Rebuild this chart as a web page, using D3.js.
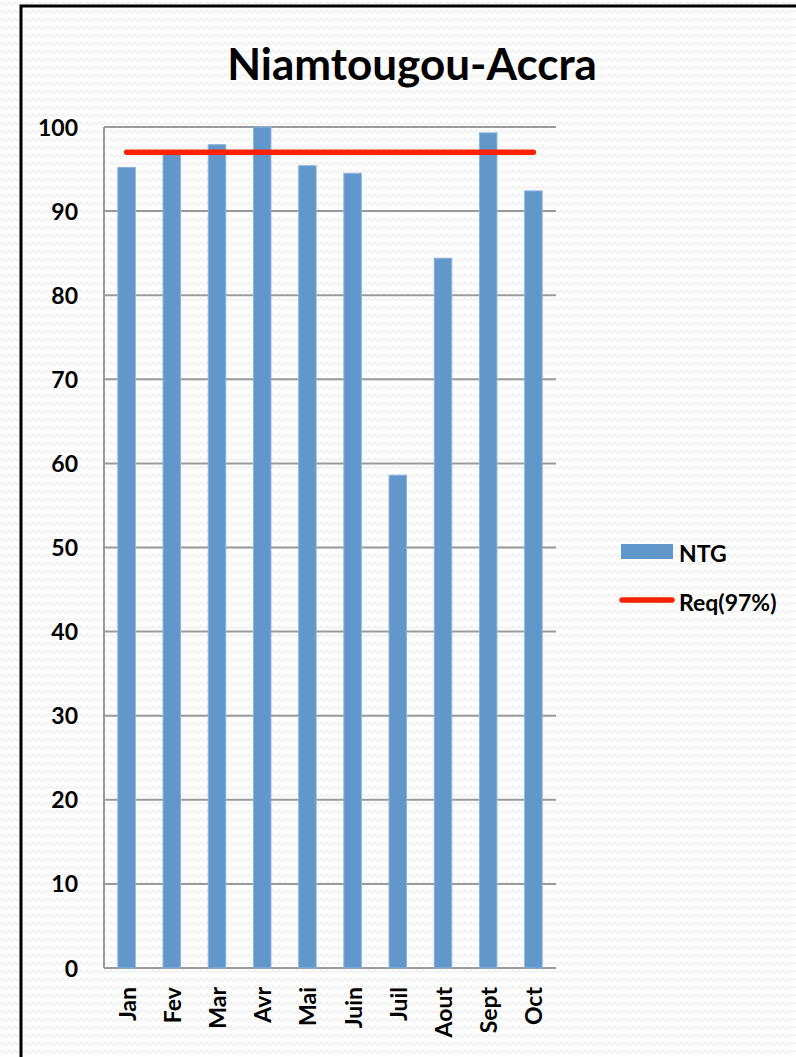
<!DOCTYPE html>
<html><head><meta charset="utf-8">
<script src="https://cdn.jsdelivr.net/npm/d3@7"></script>
<style>body{margin:0;background:#fff;}svg{display:block;}</style>
</head><body>
<script>
const categories = ["Jan","Fev","Mar","Avr","Mai","Juin","Juil","Aout","Sept","Oct"];
const ntgValues = [95.2, 97.1, 97.9, 100, 95.4, 94.5, 58.6, 84.4, 99.3, 92.4];
const reqValues = [97, 97, 97, 97, 97, 97, 97, 97, 97, 97];
const yTicks = [0,10,20,30,40,50,60,70,80,90,100];
const seriesNames = ["NTG", "Req(97%)"];
const title = "Niamtougou-Accra";

const W = 796, H = 1057;
const font = "Lato, 'Open Sans', sans-serif";
const fs = 23;
const svg = d3.select("body").append("svg").attr("width", W).attr("height", H);

// background pattern
const defs = svg.append("defs");
const pat = defs.append("pattern").attr("id","zig").attr("width",12).attr("height",8).attr("patternUnits","userSpaceOnUse");
pat.append("rect").attr("width",12).attr("height",8).attr("fill","#ffffff");
pat.append("path").attr("d","M0,5 L3,2 L6,5 L9,2 L12,5").attr("fill","none").attr("stroke","#f1f1f1").attr("stroke-width",1.5);
svg.append("rect").attr("width",W).attr("height",H).attr("fill","url(#zig)");

// chart border
svg.append("rect").attr("x",21).attr("y",6).attr("width",800).attr("height",1070)
  .attr("fill","none").attr("stroke","#000").attr("stroke-width",3);

const m = {left:104, top:127, right:556, bottom:968};
const x = d3.scaleBand().domain(categories).range([m.left, m.right]).paddingInner(0).paddingOuter(0);
const y = d3.scaleLinear().domain([0,100]).range([m.bottom, m.top]);

// gridlines
svg.append("g").selectAll("line").data(yTicks).join("line")
  .attr("x1", m.left).attr("x2", m.right)
  .attr("y1", d=>y(d)).attr("y2", d=>y(d))
  .attr("stroke","#9a9a9a").attr("stroke-width",2);
// left axis line
svg.append("line").attr("x1",m.left).attr("x2",m.left).attr("y1",m.top).attr("y2",m.bottom)
  .attr("stroke","#9a9a9a").attr("stroke-width",2);

// y axis labels
const yAxis = d3.axisLeft(y).tickValues(yTicks).tickSize(0).tickPadding(0);
const yg = svg.append("g").attr("transform",`translate(${m.left-26},0)`).call(yAxis);
yg.select(".domain").remove();
yg.selectAll("text").attr("font-family",font).attr("font-weight","bold").attr("font-size",fs).attr("fill","#000").attr("dy","0.35em");

// bars
const bw = 17.5;
svg.append("g").selectAll("rect").data(categories).join("rect")
  .attr("x", d=>x(d)+x.bandwidth()/2-bw/2)
  .attr("width", bw)
  .attr("y", (d,i)=>y(ntgValues[i]))
  .attr("height", (d,i)=>y(0)-y(ntgValues[i]))
  .attr("fill","#6197cb").attr("stroke","#8db3dc").attr("stroke-width",1);

// red line
const line = d3.line().x((d,i)=>x(categories[i])+x.bandwidth()/2).y(d=>y(d));
svg.append("path").datum(reqValues).attr("d",line)
  .attr("fill","none").attr("stroke","#ff2200").attr("stroke-width",5.5).attr("stroke-linecap","round");

// x labels rotated
const xAxis = d3.axisBottom(x).tickSize(0).tickPadding(0);
const xg = svg.append("g").attr("transform",`translate(0,${m.bottom+19})`).call(xAxis);
xg.select(".domain").remove();
xg.selectAll("text").attr("font-family",font).attr("font-weight","bold").attr("font-size",fs).attr("fill","#000")
  .attr("text-anchor","end").attr("dy",null).attr("y",0).attr("x",0)
  .attr("transform","rotate(-90)").attr("dx",0).attr("dominant-baseline","central");

// title
svg.append("text").attr("x",412).attr("y",80).attr("text-anchor","middle")
  .attr("font-family",font).attr("font-weight","bold").attr("font-size",44).attr("fill","#000").text(title);

// legend
const lg = svg.append("g");
lg.append("rect").attr("x",621).attr("y",544).attr("width",52).attr("height",15).attr("fill","#6197cb");
lg.append("text").attr("x",679).attr("y",562).attr("font-family",font).attr("font-weight","bold").attr("font-size",fs).attr("fill","#000").text(seriesNames[0]);
lg.append("line").attr("x1",622).attr("x2",672).attr("y1",600).attr("y2",600).attr("stroke","#ff2200").attr("stroke-width",5.5).attr("stroke-linecap","round");
lg.append("text").attr("x",679).attr("y",611).attr("font-family",font).attr("font-weight","bold").attr("font-size",fs).attr("fill","#000").text(seriesNames[1]);
</script>
</body></html>
